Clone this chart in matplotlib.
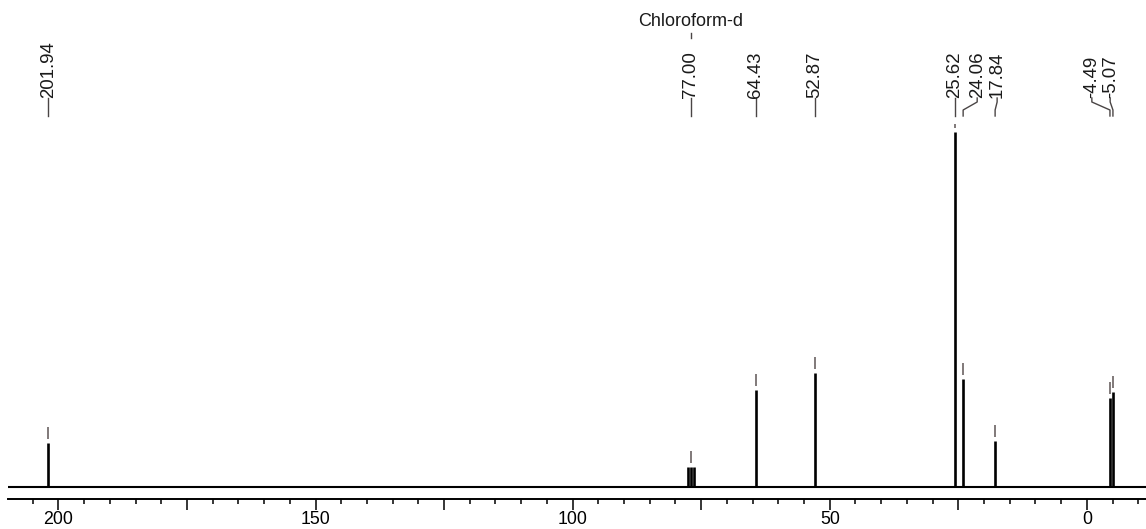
import matplotlib
matplotlib.use("Agg")
import matplotlib.pyplot as plt
from matplotlib.ticker import MultipleLocator, FuncFormatter

plt.rcParams['font.family'] = ['Liberation Sans', 'DejaVu Sans']

# ---- data (13C NMR, CDCl3) ----
peak_ppm = [201.94, 77.64, 77.00, 76.36, 64.43, 52.87, 25.62, 24.06, 17.84, -4.49, -5.07]
peak_int = [12.4, 5.6, 5.6, 5.6, 27.2, 32.1, 100.0, 30.4, 13.0, 24.9, 26.8]

label_text = ["201.94", "77.00", "64.43", "52.87", "25.62", "24.06", "17.84", "-4.49", "-5.07"]
label_peak = [201.94, 77.00, 64.43, 52.87, 25.62, 24.06, 17.84, -4.49, -5.07]
label_height = [12.4, 5.6, 27.2, 32.1, 100.0, 30.4, 13.0, 24.9, 26.8]
label_pos = [201.94, 77.00, 64.43, 52.87, 25.62, 21.33, 17.45, -0.97, -4.53]

solvent_name = "Chloroform-d"
solvent_ppm = 77.00

tick_major = 25
tick_minor = 5
tick_label_every = 50
x_left, x_right = 209.8, -11.5

# ---- figure ----
W, H = 1146, 529
fig = plt.figure(figsize=(W / 100, H / 100), dpi=100)
ax = fig.add_axes([8 / W, 30 / H, 1138 / W, 499 / H])

px_per_unit = 3.544          # vertical scale (pixels per intensity unit)
base_px = 12.3               # baseline above axis line, pixels
ax.set_xlim(x_left, x_right)
ax.set_ylim(-base_px / px_per_unit, (499 - base_px) / px_per_unit)


def yp(px_from_top):
    """convert a pixel row (from figure top) into data y"""
    return (499 - base_px - px_from_top) / px_per_unit


# baseline and peaks
ax.plot([x_left, x_right], [0, 0], color='black', lw=1.5, solid_capstyle='butt', zorder=3)
ax.vlines(peak_ppm, 0, peak_int, color='black', lw=1.9, zorder=3)

# peak markers above each labelled peak
mark_col = '#5e5555'
gap = 4 / px_per_unit
mlen = 12 / px_per_unit
cap = yp(124)
for p, h in zip(label_peak, label_height):
    y0 = h + gap
    y1 = min(y0 + mlen, cap)
    ax.plot([p, p], [y0, y1], color=mark_col, lw=1.1, solid_capstyle='butt')

# peak labels with connector lines
text_col = '#1a1a1a'
line_col = '#4a4545'
y_txt = yp(98)
y_b1 = yp(102)
y_b2 = yp(110)
y_end = yp(116)
for t, p, lx in zip(label_text, label_peak, label_pos):
    ax.text(lx, y_txt, t, rotation=90, ha='center', va='bottom', fontsize=13.4,
            color=text_col, rotation_mode='default')
    if abs(lx - p) < 0.05:
        ax.plot([lx, lx], [y_txt, y_end], color=line_col, lw=1.0)
    else:
        ax.plot([lx, lx, p, p], [y_txt, y_b1, y_b2, y_end], color=line_col, lw=1.0)

# solvent label
ax.text(solvent_ppm, yp(26), solvent_name, ha='center', va='baseline', fontsize=13,
        color=text_col)
ax.plot([solvent_ppm, solvent_ppm], [yp(33), yp(38)], color=line_col, lw=1.0)

# axes styling
for s in ['left', 'right', 'top']:
    ax.spines[s].set_visible(False)
ax.spines['bottom'].set_linewidth(1.4)
ax.yaxis.set_visible(False)
ax.xaxis.set_major_locator(MultipleLocator(tick_major))
ax.xaxis.set_minor_locator(MultipleLocator(tick_minor))
ax.xaxis.set_major_formatter(FuncFormatter(
    lambda v, _: str(int(round(v))) if abs(v / tick_label_every - round(v / tick_label_every)) < 1e-6 else ""))
ax.tick_params(axis='x', which='major', direction='out', length=8, width=1.1,
               labelsize=12.8, pad=1, colors='black')
ax.tick_params(axis='x', which='minor', direction='out', length=3.9, width=1.1)
ax.patch.set_visible(False)

fig.savefig("out.png", dpi=100)
